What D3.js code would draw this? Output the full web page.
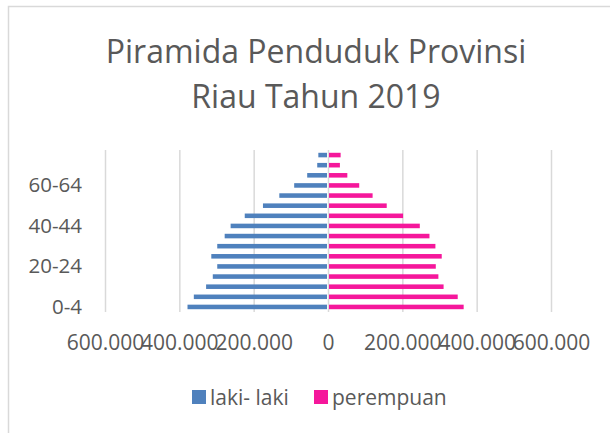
<!DOCTYPE html>
<html>
<head>
<meta charset="utf-8">
<script src="https://cdn.jsdelivr.net/npm/d3@7"></script>
<style>
  html, body { margin: 0; padding: 0; background: #fff; }
  svg { display: block; }
  text { font-family: "Open Sans", "Noto Sans", sans-serif; fill: #595959; }
</style>
</head>
<body>
<div id="chart"></div>
<script>
// ---- data ----
const ageGroups = ["0-4","5-9","10-14","15-19","20-24","25-29","30-34","35-39","40-44","45-49","50-54","55-59","60-64","65-69","70-74","75+"];
const lakiLaki  = [378000, 361000, 328000, 310000, 298000, 314000, 298000, 278000, 262000, 224000, 175000, 131000, 91000, 56000, 29000, 26000];
const perempuan = [365000, 349000, 311000, 297000, 290000, 306000, 289000, 273000, 247000, 202000, 158000, 120000, 84000, 52000, 32000, 34000];
const xTicks = [-600000, -400000, -200000, 0, 200000, 400000, 600000];
const yTickLabels = ["0-4", "20-24", "40-44", "60-64"];
const seriesNames = ["laki- laki", "perempuan"];
const titleLines = ["Piramida Penduduk Provinsi", "Riau Tahun 2019"];

// ---- layout ----
const W = 610, H = 433;
const plot = { left: 105, right: 551, top: 150, bottom: 312 };
const colors = { laki: "#4F81BD", perempuan: "#F5179B" };

const svg = d3.select("#chart").append("svg").attr("width", W).attr("height", H);

// outer chart border
svg.append("rect").attr("x", 8.5).attr("y", 6.5).attr("width", 700).attr("height", 600)
  .attr("fill", "none").attr("stroke", "#d9d9d9").attr("stroke-width", 1.5);

// title
svg.append("text").attr("x", 316).attr("y", 62.5).attr("text-anchor", "middle")
  .style("font-size", "32px").text(titleLines[0]);
svg.append("text").attr("x", 316).attr("y", 108).attr("text-anchor", "middle")
  .style("font-size", "32px").text(titleLines[1]);

const x = d3.scaleLinear().domain([-600000, 600000]).range([plot.left, plot.right]);
const y = d3.scaleBand().domain(ageGroups.slice().reverse()).range([plot.top, plot.bottom]).paddingInner(0.55).paddingOuter(0.275);

const loc = d3.formatLocale({ decimal: ",", thousands: ".", grouping: [3], currency: ["", ""] });
const fmt = loc.format(",");

// gridlines
const grid = svg.append("g").attr("transform", `translate(0,${plot.bottom})`)
  .call(d3.axisBottom(x).tickValues(xTicks).tickSize(-(plot.bottom - plot.top)).tickFormat(""));
grid.select(".domain").remove();
grid.selectAll("line").attr("stroke", "#d9d9d9").attr("stroke-width", 1.5);

// bars
const rows = ageGroups.map((a, i) => ({ age: a, l: lakiLaki[i], p: perempuan[i] }));
svg.append("g").selectAll("rect").data(rows).join("rect")
  .attr("x", d => x(-d.l)).attr("y", d => y(d.age))
  .attr("width", d => x(0) - 1 - x(-d.l)).attr("height", y.bandwidth())
  .attr("fill", colors.laki);
svg.append("g").selectAll("rect").data(rows).join("rect")
  .attr("x", x(0) + 1).attr("y", d => y(d.age))
  .attr("width", d => x(d.p) - x(0) - 1).attr("height", y.bandwidth())
  .attr("fill", colors.perempuan);

// x axis labels
const xa = svg.append("g").attr("transform", `translate(0,${plot.bottom})`)
  .call(d3.axisBottom(x).tickValues(xTicks).tickSize(0).tickPadding(23).tickFormat(d => fmt(Math.abs(d))));
xa.select(".domain").remove();
xa.selectAll("text").style("font-size", "21px").attr("fill", "#595959");

// y axis labels
const ya = svg.append("g").attr("transform", `translate(${plot.left - 23},0)`)
  .call(d3.axisLeft(y).tickValues(yTickLabels).tickSize(0).tickPadding(0));
ya.select(".domain").remove();
ya.selectAll("text").style("font-size", "20.5px").attr("fill", "#595959");

// legend
const leg = svg.append("g");
const legItems = [
  { name: seriesNames[0], color: colors.laki, x: 192 },
  { name: seriesNames[1], color: colors.perempuan, x: 314 }
];
legItems.forEach(it => {
  leg.append("rect").attr("x", it.x).attr("y", 390).attr("width", 14).attr("height", 14).attr("fill", it.color);
  leg.append("text").attr("x", it.x + 18).attr("y", 405).style("font-size", "21px").text(it.name);
});
</script>
</body>
</html>
